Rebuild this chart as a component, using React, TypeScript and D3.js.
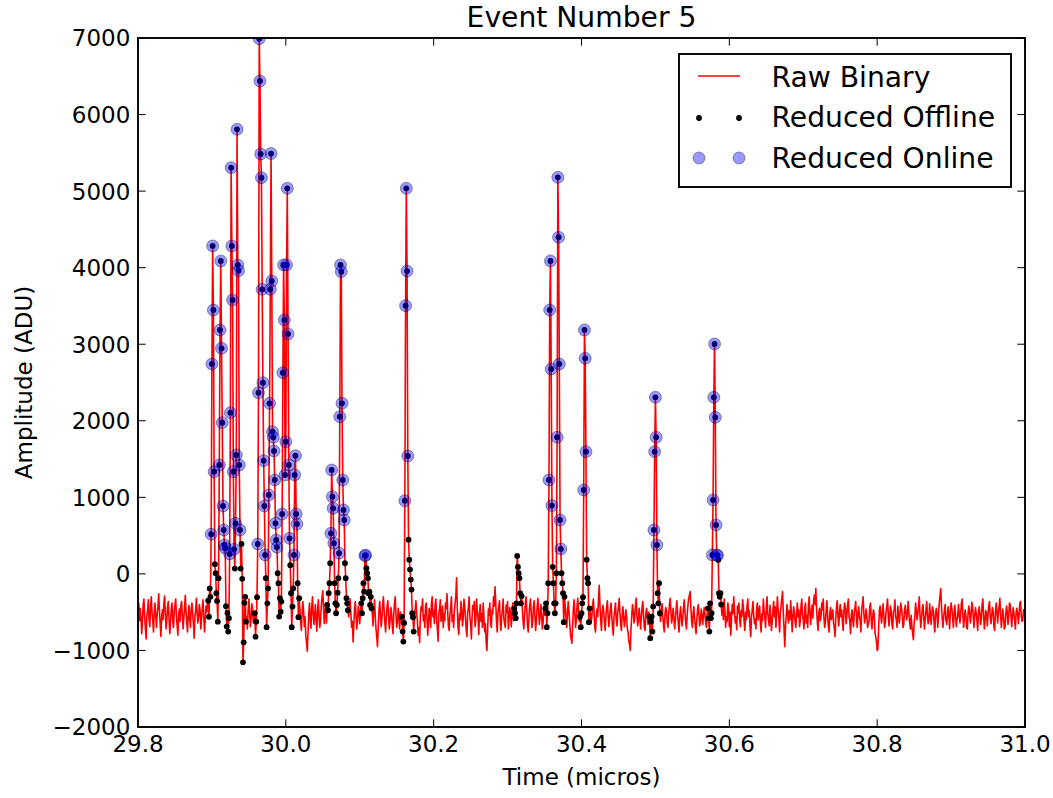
import React from "react";
import * as d3 from "d3";

const W = 1053;
const H = 798;
const M = { left: 138, right: 1025, top: 38, bottom: 727 };

const xTicks = [29.8, 30.0, 30.2, 30.4, 30.6, 30.8, 31.0];
const yTicks = [-2000, -1000, 0, 1000, 2000, 3000, 4000, 5000, 6000, 7000];
const xDomain = [29.8, 31.0];
const yDomain = [-2000, 7000];
const title = "Event Number 5";
const xLabel = "Time (micros)";
const yLabel = "Amplitude (ADU)";
const legendLabels = ["Raw Binary", "Reduced Offline", "Reduced Online"];

// raw binary trace: 1 ns samples starting at 29.8 micros
const sampleStart = 29.8;
const sampleStep = 0.001;

const noise0 = [
  -520, -380, -610, -450, -560, -780, -640, -400, -330, -560,
  -720, -850, -540, -470, -340, -600, -690, -420, -300, -510,
  -620, -760, -480, -380, -560, -700, -520, -430, -260, -480,
  -650, -820, -560, -470, -600, -380, -290, -520, -720, -600,
  -430, -360, -590, -780, -640, -450, -380, -610, -700, -500,
  -400, -330, -560, -680, -800, -520, -460, -620, -420, -360,
  -540, -720, -580, -440, -280, -500, -640, -760, -520, -410,
  -600, -700, -450, -380, -520, -660, -840, -560, -470, -320,
  -520, -640, -560, -400, -480, -720, -580, -440, -340, -560,
  -760, -600, -420, -500, -380,
];
const pulseA1 = [
  -350, -560, -190, -300, 518, 2742, 4283, 3447, 1335, 126,
  9, -253, -353, -624, -56, 1423, 3186, 4088, 2947, 1975,
  887, 574, 378, 339, -422, -688, -510, -753, -578, 261,
  2106, 5306, 4283, 3578, 1335, 322, 70, 661, 1553, 5807,
  4036, 3960, 1423, 574, 70, 391, -65, -1155, -894, -378,
  -300, -624,
];
const pulseA1Online = [4, 5, 6, 7, 8, 15, 16, 17, 18, 19, 20, 21, 22, 23, 29, 30, 31, 32, 33, 34, 35, 37, 38, 39, 40, 41, 42, 43];
const noise1 = [-560, -720, -480, -330, -500, -690, -580, -390, -460, -640, -520];
const pulseA2 = [
  -514, -820, -624, -305, 391, 2367, 6990, 6438, 5485, 5176,
  3717, 2498, 1479, 887, 248, -56, -696, -384, -188, 1031,
  2228, 3717, 5490, 3826, 1858, 1784, 1606, 1227, 661, 443,
  348, 9, -122, -558, -317, -493, -362, 782, 2628, 4036,
  3317, 1292, 1727, 4036, 5037, 3134, 1423, 465, 113, -253,
  -696, -427, -188, 248, 1292, 1544, 782, 652, -122, -566,
  -317,
];
const pulseA2Online = [4, 5, 6, 7, 8, 9, 10, 11, 12, 13, 14, 19, 20, 21, 22, 23, 24, 25, 26, 27, 28, 29, 30, 37, 38, 39, 40, 41, 42, 43, 44, 45, 46, 47, 53, 54, 55, 56, 57];
const noise2 = [
  -450, -620, -740, -520, -360, -480, -690, -560, -800, -900,
  -1010, -780, -520, -380, -600, -710, -450, -300, -520, -660,
  -540, -400, -620, -750, -480, -340, -560, -700, -600, -420,
  -300, -220, -450, -650, -520, -380, -640,
];
const pulseB = [
  -405, -475, -253, -122, 139, 530, 1357, 1009, 857, 400,
  -122, -384, -514, -405, -245, -56, 270, 2054, 4036, 3948,
  2228, 1227, 835, 704, 139, -56, -317, -384, -475,
];
const pulseBOnline = [5, 6, 7, 8, 9, 16, 17, 18, 19, 20, 21, 22, 23];
const noise3 = [-560, -400, -330, -520, -700, -620, -890, -680, -450, -360, -540, -720, -600, -420, -500, -650, -480];
const pulseC = [-384, -514, -317, -122, -232, 238, 245, 74, 9, -56, -253, -232, -405, -300, -450];
const pulseCOnline = [5, 6];
const noise4 = [
  -520, -680, -460, -340, -560, -720, -820, -950, -700, -480,
  -360, -520, -690, -580, -400, -300, -480, -640, -760, -560,
  -420, -350, -570, -720, -600, -440, -500, -680, -780, -540,
  -380, -300, -520, -700, -620, -450, -560, -720, -500, -640,
];
const pulseD = [-560, -753, -884, -640, 956, 3503, 5037, 3956, 1540, 447, 186, 56, -74, -205, -514, -566, -753];
const pulseDOnline = [4, 5, 6, 7, 8];
const noise5 = [
  -600, -470, -350, -520, -610, -800, -700, -900, -560, -430,
  -480, -330, -610, -540, -700, -420, -380, -590, -800, -640,
  -450, -520, -700, -380, -300, -560, -480, -650, -410, -330,
  -600, -720, -880, -510, -460, -340, -620, -560, -420, -700,
  -520, -610, -380, -450, -260, -500, -690, -740, -530, -470,
  -300, -620, -540, -700, -480, -390, -280, -50, -440, -700,
  -790, -520, -600, -360, -470, -680, -580, -330, -420, -560,
  -730, -820, -510, -440, -300, -560, -650, -850, -560, -410,
  -470, -360, -690, -600, -330, -480, -580, -790, -510, -400,
  -620, -520, -700, -380, -560, -760, -650, -880, -1000, -740,
  -460, -540, -380, -640, -700, -470, -520, -300, -420, -170,
  -380, -620, -760, -500, -430, -350, -610, -740, -560, -470,
  -330, -580, -660, -700, -410, -500, -360, -720, -590, -440,
  -520, -690, -470, -380, -610,
];
const pulseE = [-450, -514, -579, -384, 235, 91, 9, -56, -253, -384, -290];
const pulseEOnline: number[] = [];
const noise6 = [
  -460, -620, -720, -540, -380, -300, -480, -680, -760, -560,
  -400, -330, -520, -700, -610, -420, -350, -560, -740, -600,
  -440, -320, -480, -660, -560, -400, -520, -720, -640, -460,
  -540,
];
const pulseF = [
  -450, -384, -696, -514, -122, 1227, 3447, 4088, 2677, 892,
  91, -122, -384, -514, -384, 9, 1785, 5180, 4397, 2742,
  704, 326, 9, -122, -253, -631, -300,
];
const pulseFOnline = [5, 6, 7, 8, 9, 16, 17, 18, 19, 20, 21];
const noise7 = [
  -420, -580, -700, -520, -360, -480, -640, -780, -850, -906,
  -680, -460, -340, -520, -700, -600, -420, -320, -500, -620,
];
const pulseG = [-560, -696, -514, -384, -305, 1096, 3186, 2816, 1597, 186, -56, -122, -631, -450];
const pulseGOnline = [5, 6, 7, 8];
const noise8 = [
  -520, -640, -560, -420, -330, -500, -700, -760, -540, -460,
  -560, -330, -150, -420, -600, -740, -500, -410, -480, -620,
  -740, -560, -430, -350, -540, -690, -580, -460, -380, -560,
  -700, -800, -560, -470, -380, -600, -680, -520, -430, -320,
  -510, -660, -740, -540, -430, -560, -690, -600, -470, -560,
  -720, -760, -880, -920, -1000, -720, -540, -400, -480, -640,
  -580, -410, -320, -540, -680, -600, -450, -560, -720, -560,
  -430, -360, -560, -700, -740, -520, -450, -540, -660, -500,
];
const pulseH = [-560, -840, -624, -558, -753, -427, 574, 1597, 2307, 1785, 378, -253, -384, -122, -514];
const pulseHOnline = [6, 7, 8, 9, 10];
const noise9 = [
  -620, -500, -390, -540, -680, -760, -520, -440, -480, -640,
  -700, -520, -400, -320, -500, -640, -560, -450, -580, -720,
  -600, -470, -350, -520, -660, -760, -540, -430, -560, -680,
  -580, -440, -340, -500, -640, -720, -540, -410, -320, -280,
  -230, -450, -620, -700, -520, -430, -580, -690, -780, -600,
  -470, -400, -560, -680, -600, -460, -540, -660, -540, -440,
  -520, -640, -700, -520,
];
const pulseI = [-450, -580, -753, -384, -579, -514, 248, 966, 2307, 3003, 2045, 640, 248, 240, 183, -253, -300, -253, -400];
const pulseIOnline = [6, 7, 8, 9, 10, 11, 12, 13];
const noise10 = [
  -540, -420, -600, -330, -470, -700, -560, -620, -380, -450,
  -690, -500, -800, -560, -400, -520, -300, -470, -640, -560,
  -730, -420, -510, -380, -600, -690, -480, -560, -340, -430,
  -620, -740, -500, -600, -410, -330, -560, -480, -700, -820,
  -560, -470, -360, -540, -650, -590, -720, -440, -380, -600,
  -500, -420, -640, -760, -520, -610, -330, -480, -560, -700,
  -450, -300, -520, -600, -680, -410, -550, -740, -620, -480,
  -360, -560, -430, -700, -520, -300, -470, -580, -760, -510,
  -420, -320, -230, -500, -720, -950, -680, -560, -400, -530,
  -640, -480, -600, -350, -520, -760, -590, -430, -500, -620,
  -700, -520, -380, -560, -470, -690, -610, -420, -330, -540,
  -600, -720, -460, -380, -640, -540, -700, -430, -300, -520,
  -660, -500, -410, -580, -360, -280, -400, -190, -460, -620,
  -740, -520, -450, -610, -560, -380, -470, -330, -580, -700,
  -620, -480, -350, -560, -690, -760, -510, -440, -600, -530,
  -470, -640, -700, -820, -580, -430, -350, -560, -680, -520,
  -400, -560, -470, -620, -740, -500, -380, -450, -650, -540,
  -410, -330, -560, -620, -780, -540, -470, -600, -690, -500,
  -440, -360, -590, -700, -520, -430, -560, -610, -760, -480,
  -390, -300, -520, -640, -580, -460, -540, -700, -650, -620,
  -430, -380, -600, -720, -560, -470, -520, -760, -820, -880,
  -1000, -980, -700, -480, -420, -560, -640, -510, -390, -540,
  -700, -640, -500, -430, -330, -520, -680, -560, -420, -490,
  -660, -720, -500, -470, -340, -560, -610, -700, -420, -560,
  -640, -520, -380, -450, -560, -700, -660, -480, -410, -520,
  -600, -500, -360, -520, -640, -720, -540, -690, -780, -860,
  -640, -560, -380, -480, -600, -520, -430, -300, -560, -700,
  -580, -460, -400, -560, -720, -600, -480, -360, -540, -650,
  -600, -390, -540, -660, -520, -430, -480, -640, -760, -530,
  -450, -520, -700, -540, -380, -290, -190, -420, -580, -700,
  -560, -480, -400, -600, -660, -560, -430, -540, -720, -500,
  -380, -450, -560, -700, -540, -410, -520, -690, -600, -560,
  -400, -520, -640, -520, -380, -330, -560, -700, -580, -470,
  -540, -700, -720, -520, -420, -500, -640, -560, -370, -420,
  -560, -700, -540, -440, -520, -610, -740, -500, -430, -520,
  -660, -580, -400, -330, -540, -720, -600, -480, -520, -680,
  -530, -420, -360, -560, -650, -540, -440, -500, -690, -740,
  -500, -380, -480, -640, -520, -430, -320, -540, -700, -580,
  -460, -560, -720, -700, -530, -420, -500, -660, -560, -380,
  -400, -540, -690, -560, -440, -520, -610, -720, -500, -450,
  -520, -650, -540, -380, -360, -560, -620, -600, -470, -540,
  -560,
];

type Seg = { values: number[]; online: number[] | null };
const segments: Seg[] = [
  { values: noise0, online: null },
  { values: pulseA1, online: pulseA1Online },
  { values: noise1, online: null },
  { values: pulseA2, online: pulseA2Online },
  { values: noise2, online: null },
  { values: pulseB, online: pulseBOnline },
  { values: noise3, online: null },
  { values: pulseC, online: pulseCOnline },
  { values: noise4, online: null },
  { values: pulseD, online: pulseDOnline },
  { values: noise5, online: null },
  { values: pulseE, online: pulseEOnline },
  { values: noise6, online: null },
  { values: pulseF, online: pulseFOnline },
  { values: noise7, online: null },
  { values: pulseG, online: pulseGOnline },
  { values: noise8, online: null },
  { values: pulseH, online: pulseHOnline },
  { values: noise9, online: null },
  { values: pulseI, online: pulseIOnline },
  { values: noise10, online: null },
];

type Pt = { t: number; v: number };
const raw: Pt[] = [];
const offline: Pt[] = [];
const online: Pt[] = [];
{
  let idx = 0;
  for (const s of segments) {
    s.values.forEach((v, k) => {
      const p = { t: sampleStart + idx * sampleStep, v };
      raw.push(p);
      if (s.online) {
        offline.push(p);
        if (s.online.includes(k)) online.push(p);
      }
      idx++;
    });
  }
}

const FONT = "DejaVu Sans";
const FS = 23;
const FS_L = 28.2;

export default function App() {
  const x = d3.scaleLinear().domain(xDomain).range([M.left, M.right]);
  const y = d3.scaleLinear().domain(yDomain).range([M.bottom, M.top]);
  const line = d3
    .line<Pt>()
    .x((d) => x(d.t))
    .y((d) => y(d.v));
  const fmtY = (v: number) => (v < 0 ? "\u2212" + Math.abs(v) : String(v));
  const tickLen = 7.7;
  const cx = (M.left + M.right) / 2;
  const cy = (M.top + M.bottom) / 2;

  return (
    <svg
      width={W}
      height={H}
      style={{ position: "absolute", left: 0, top: 0, background: "#fff" }}
      fontFamily={FONT}
    >
      <defs>
        <clipPath id="plotClip">
          <rect x={M.left} y={M.top} width={M.right - M.left} height={M.bottom - M.top} />
        </clipPath>
      </defs>
      <rect x={0} y={0} width={W} height={H} fill="#fff" />
      <g clipPath="url(#plotClip)">
        <path d={line(raw) || ""} fill="none" stroke="red" strokeWidth={1.6} strokeLinejoin="round" />
        {offline.map((d, i) => (
          <circle key={"o" + i} cx={x(d.t)} cy={y(d.v)} r={2.9} fill="#000" />
        ))}
        {online.map((d, i) => (
          <circle
            key={"n" + i}
            cx={x(d.t)}
            cy={y(d.v)}
            r={6}
            fill="blue"
            fillOpacity={0.4}
            stroke="#000"
            strokeOpacity={0.4}
            strokeWidth={0.9}
          />
        ))}
      </g>
      {xTicks.map((t) => (
        <g key={"xt" + t}>
          <line x1={x(t)} x2={x(t)} y1={M.bottom} y2={M.bottom - tickLen} stroke="#000" strokeWidth={1} />
          <line x1={x(t)} x2={x(t)} y1={M.top} y2={M.top + tickLen} stroke="#000" strokeWidth={1} />
          <text x={x(t)} y={M.bottom + 7.7 + 16.8} fontSize={FS} textAnchor="middle" fill="#000">
            {t.toFixed(1)}
          </text>
        </g>
      ))}
      {yTicks.map((v) => (
        <g key={"yt" + v}>
          <line x1={M.left} x2={M.left + tickLen} y1={y(v)} y2={y(v)} stroke="#000" strokeWidth={1} />
          <line x1={M.right} x2={M.right - tickLen} y1={y(v)} y2={y(v)} stroke="#000" strokeWidth={1} />
          <text x={M.left - 7.7} y={y(v) + 8.4} fontSize={FS} textAnchor="end" fill="#000">
            {fmtY(v)}
          </text>
        </g>
      ))}
      <rect
        x={M.left}
        y={M.top}
        width={M.right - M.left}
        height={M.bottom - M.top}
        fill="none"
        stroke="#000"
        strokeWidth={1.9}
      />
      <text x={cx} y={27} fontSize={FS_L} textAnchor="middle" fill="#000">
        {title}
      </text>
      <text x={cx} y={785} fontSize={FS} textAnchor="middle" fill="#000">
        {xLabel}
      </text>
      <text
        transform={`translate(32,${cy}) rotate(-90)`}
        fontSize={FS}
        textAnchor="middle"
        fill="#000"
      >
        {yLabel}
      </text>
      <g>
        <rect x={679} y={54} width={332} height={133} fill="#fff" stroke="#000" strokeWidth={1.9} />
        <line x1={698} x2={740} y1={76} y2={76} stroke="red" strokeWidth={1.6} />
        <circle cx={699} cy={118} r={2.9} fill="#000" />
        <circle cx={739} cy={118} r={2.9} fill="#000" />
        <circle cx={699} cy={158} r={6} fill="blue" fillOpacity={0.4} stroke="#000" strokeOpacity={0.4} strokeWidth={0.9} />
        <circle cx={739} cy={158} r={6} fill="blue" fillOpacity={0.4} stroke="#000" strokeOpacity={0.4} strokeWidth={0.9} />
        {legendLabels.map((s, i) => (
          <text key={s} x={771.5} y={86.5 + i * 40.5} fontSize={FS_L} fill="#000">
            {s}
          </text>
        ))}
      </g>
    </svg>
  );
}
